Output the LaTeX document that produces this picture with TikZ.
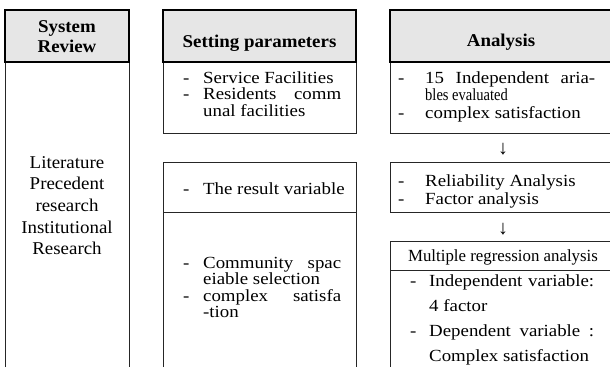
\documentclass[tikz,border=0pt]{standalone}
\usepackage{fontspec}
\usepackage{graphicx}
\setmainfont[FakeStretch=1.11]{Liberation Serif}
\newfontfamily\headfont[FakeStretch=1.05]{Liberation Serif}
\newfontfamily\midfont[FakeStretch=0.99]{Liberation Serif}
\definecolor{headgray}{RGB}{230,230,230}
\tikzstyle{headbox}=[draw=black, fill=headgray, line width=1.8pt]
\tikzstyle{boxline}=[draw=black!85, line width=1pt]
\tikzstyle{headlabel}=[inner sep=0pt, anchor=base, font=\fontsize{18}{20}\selectfont\headfont\bfseries]
\tikzstyle{itemtext}=[inner sep=0pt, anchor=base west, align=justify, font=\fontsize{17}{16.5}\selectfont]
\tikzstyle{arrowtext}=[inner sep=0pt, font=\fontsize{20}{20}\selectfont\midfont]
\newcommand{\itm}[2][20pt]{\hangindent=#1\hangafter=1\noindent\makebox[#1][l]{-}#2\par}

\begin{document}
\begin{tikzpicture}[x=1pt, y=-1pt]
\useasboundingbox (0,0) rectangle (610,367);

% system review
\draw[boxline] (5,367) -- (5,62) -- (129,62) -- (129,367);
\filldraw[headbox] (5,10) rectangle (129,62);
\node[headlabel, text width=120pt, align=center] (sysh) at (67,32) {System\\Review};
\node[itemtext, anchor=base, align=center, text width=120pt, font=\fontsize{18}{21.7}\selectfont\headfont]
  (sysb) at (67,168) {Literature\\Precedent\\research\\Institutional\\Research};

% setting parameters
\draw[boxline] (163,62) rectangle (356,133);
\draw[boxline] (163,367) -- (163,162) -- (356,162) -- (356,367) (163,212) -- (356,212);
\filldraw[headbox] (163,10) rectangle (356,62);
\node[headlabel] (seth) at (259.5,47) {Setting parameters};
\node[itemtext, text width=158pt] (seta) at (183,83)
  {\itm{Service Facilities}\itm{Residents comm\linebreak unal facilities}};
\node[itemtext, text width=165pt] (setb) at (183,194) {\itm{The result variable}};
\node[itemtext, text width=158pt] (setc) at (183,268)
  {\itm{Community spac\linebreak eiable selection}\itm{complex satisfa\linebreak -tion}};

% analysis
\draw[boxline] (610,133) -- (390,133) -- (390,62);
\draw[boxline] (610,162) -- (390,162) -- (390,212) -- (610,212);
\draw[boxline] (610,241) -- (390,241) -- (390,367) (390,270) -- (610,270);
\filldraw[headbox] (610,10) -- (390,10) -- (390,62) -- (610,62);
\node[headlabel] (anah) at (501,46) {Analysis};
\node[itemtext, text width=197pt, font=\fontsize{17}{17.5}\selectfont] (anaa) at (398,83)
  {\itm[27pt]{15 Independent aria-\linebreak \scalebox{0.77}[1]{bles evaluated}}\itm[27pt]{complex satisfaction}};
\node[arrowtext] (arra) at (503,149.5) {↓};
\node[itemtext, text width=197pt, font=\fontsize{17}{18}\selectfont] (anab) at (398,186)
  {\itm[27pt]{Reliability Analysis}\itm[27pt]{Factor analysis}};
\node[arrowtext] (arrb) at (503,229.5) {↓};
\node[inner sep=0pt, anchor=base, font=\fontsize{17}{17}\selectfont\midfont] (anac) at (503,261)
  {Multiple regression analysis};
\node[itemtext, text width=184pt, font=\fontsize{17}{25}\selectfont] (anad) at (410,286)
  {\itm[19pt]{Independent variable:\linebreak 4 factor}\itm[19pt]{Dependent variable :\linebreak Complex satisfaction}};
\end{tikzpicture}
\end{document}
